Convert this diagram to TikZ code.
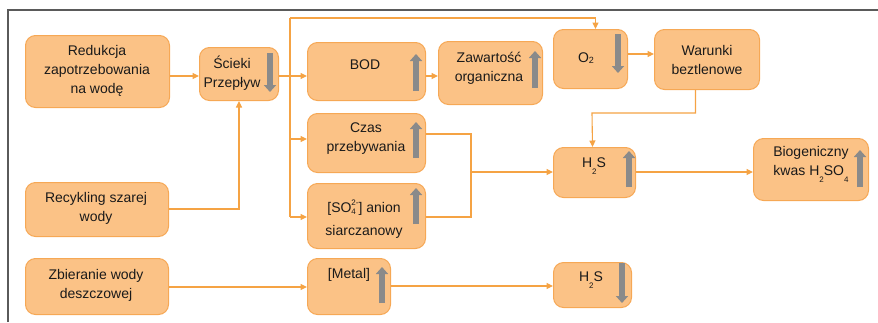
\documentclass[tikz,border=0pt]{standalone}
\usepackage{fontspec}
\setmainfont{Liberation Sans}
\usetikzlibrary{arrows.meta}
\definecolor{boxfill}{HTML}{FBC286}
\definecolor{boxline}{HTML}{F6A855}
\definecolor{connc}{HTML}{F5A344}
\definecolor{garr}{HTML}{8A8A8A}
\definecolor{framec}{HTML}{5A5A5A}
\definecolor{txt}{HTML}{1A1A1A}
\newcommand{\sbd}[1]{\raisebox{-7pt}{\fontsize{8}{8}\selectfont #1}}
\newcommand{\garrow}[3]{\draw[grayarrow] (#1,#2) -- (#1,#3);}
\begin{document}
\begin{tikzpicture}[x=1pt,y=-1pt,
  box/.style={draw=boxline, fill=boxfill, line width=1pt, rounded corners=10pt, anchor=north west, inner sep=0pt},
  lbl/.style={align=center, text=txt, font=\fontsize{14}{19}\selectfont, inner sep=0pt},
  conn/.style={draw=connc, line width=1.1pt, -{Triangle[length=6.5pt,width=6pt]}},
  cline/.style={draw=connc, line width=1.1pt},
  grayarrow/.style={draw=garr, line width=6pt, -{Triangle[length=7pt,width=12pt]}}]
\useasboundingbox (0,0) rectangle (878,322);
\draw[draw=framec, line width=1.6pt] (8,322) -- (8,10) -- (878,10);
% boxes
\node[box, minimum width=144pt, minimum height=72pt] (red) at (25,35) {};
\node[box, minimum width=79pt, minimum height=53pt] (sci) at (199,47) {};
\node[box, minimum width=143pt, minimum height=54pt] (rec) at (25,182) {};
\node[box, minimum width=143pt, minimum height=56pt] (zbi) at (25,258) {};
\node[box, minimum width=118pt, minimum height=58pt] (bod) at (307,42) {};
\node[box, minimum width=104pt, minimum height=63pt] (zaw) at (438,41) {};
\node[box, minimum width=118pt, minimum height=59pt] (cza) at (307,113) {};
\node[box, minimum width=118pt, minimum height=65pt] (so4) at (307,183) {};
\node[box, minimum width=83pt, minimum height=56pt] (met) at (307,258) {};
\node[box, minimum width=74pt, minimum height=59pt] (o2) at (553,29) {};
\node[box, minimum width=105pt, minimum height=60pt] (war) at (654,29) {};
\node[box, minimum width=82pt, minimum height=50pt] (hsm) at (553,147) {};
\node[box, minimum width=115pt, minimum height=62pt] (bio) at (753,138) {};
\node[box, minimum width=78pt, minimum height=45pt] (hsb) at (553,262) {};
% texts
\node[lbl] (tred) at (97,71) {Redukcja\\zapotrzebowania\\na wodę};
\node[lbl] (tsci) at (232,73) {Ścieki\\Przepływ};
\node[lbl] (trec) at (96,208) {Recykling szarej\\wody};
\node[lbl] (tzbi) at (96,285) {Zbieranie wody\\deszczowej};
\node[lbl] (tbod) at (365,65) {BOD};
\node[lbl] (tzaw) at (489,68) {Zawartość\\organiczna};
\node[lbl] (tcza) at (366,139) {Czas\\przebywania};
\node[lbl, font=\fontsize{14}{23}\selectfont] (tso4) at (364,219) {[SO\rlap{\raisebox{-2pt}{\fontsize{8}{8}\selectfont 4}}\raisebox{7pt}{\fontsize{8}{8}\selectfont 2-}] anion\\siarczanowy};
\node[lbl] (tmet) at (349,275) {[Metal]};
\node[lbl] (to2) at (586,58) {O\raisebox{-1pt}{\fontsize{9}{9}\selectfont 2}};
\node[lbl] (twar) at (707,60) {Warunki\\beztlenowe};
\node[lbl] (thsm) at (594,166) {H\sbd{2}S};
\node[lbl] (tbio) at (811,164) {Biogeniczny\\kwas H\sbd{2}SO\sbd{4}};
\node[lbl] (thsb) at (591,280) {H\sbd{2}S};
% gray arrows
\garrow{270}{53}{92}
\garrow{416}{91}{54}
\garrow{535}{88}{51}
\garrow{416}{158}{122}
\garrow{416}{224}{188}
\garrow{382}{303}{267}
\garrow{618}{34}{73}
\garrow{629}{187}{151}
\garrow{860}{187}{150}
\garrow{622}{263}{303}
% connectors
\draw[conn] (red.east |- 0,76) -- (sci.west |- 0,76);
\draw[conn] (rec.east |- 0,209) -| (sci.south);
\coordinate (jt) at (290,18);
\coordinate (jb) at (290,217);
\draw[cline] (sci.east |- 0,76) -- (290,76);
\draw[cline] (jt) -- (jb);
\draw[conn] (290,76) -- (bod.west |- 0,76);
\draw[conn] (290,139) -- (cza.west |- 0,139);
\draw[conn] (jb) -- (so4.west |- 0,217);
\draw[conn] (jt) -| ([xshift=5pt]o2.north);
\draw[conn] (bod.east |- 0,76) -- (zaw.west |- 0,76);
\draw[conn] (o2.east |- 0,54) -- (war.west |- 0,54);
\draw[conn] ([xshift=-11.5pt]war.south) |- (592,113) -- ([xshift=-2pt]hsm.north);
\coordinate (jm) at (471,172);
\draw[cline] (cza.east |- 0,134) -| (471,217) -- (so4.east |- 0,217);
\draw[conn] (jm) -- (hsm.west |- jm);
\draw[conn] (hsm.east |- 0,172) -- (bio.west |- 0,172);
\draw[conn] (zbi.east |- 0,287) -- (met.west |- 0,287);
\draw[conn] (met.east |- 0,286) -- (hsb.west |- 0,286);
\end{tikzpicture}
\end{document}
